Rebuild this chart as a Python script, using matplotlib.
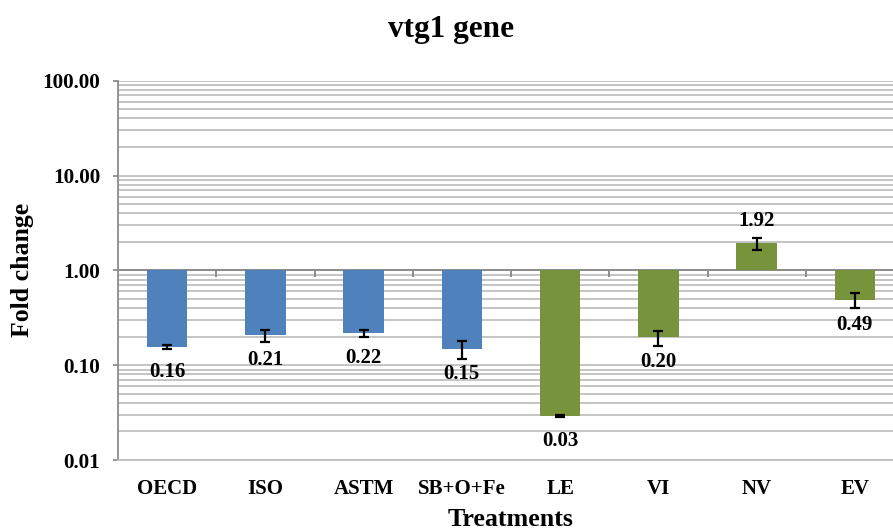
import numpy as np
import matplotlib
matplotlib.use("Agg")
import matplotlib.pyplot as plt
from matplotlib.ticker import FixedLocator, NullFormatter, LogLocator

# данные
treatments = ["OECD", "ISO", "ASTM", "SB+O+Fe", "LE", "VI", "NV", "EV"]
fold_change = [0.157, 0.207, 0.218, 0.148, 0.029, 0.196, 1.92, 0.487]
errors = [0.008, 0.03, 0.018, 0.033, 0.0005, 0.036, 0.29, 0.09]
bar_colors = ["#4F81BD"] * 4 + ["#77933C"] * 4
y_ticks = [0.01, 0.1, 1, 10, 100]
y_ticklabels = ["0.01", "0.10", "1.00", "10.00", "100.00"]

plt.rcParams["font.family"] = ["Liberation Serif", "DejaVu Serif"]
plt.rcParams["font.weight"] = "bold"

W, H = 893, 531
fig = plt.figure(figsize=(W / 100, H / 100), dpi=100)
ax = fig.add_axes([118 / W, 1 - 460 / H, 786 / W, (460 - 80.7) / H])

x = np.arange(len(treatments))
vals = np.array(fold_change)

ax.set_yscale("log")
ax.set_ylim(0.01, 100)
ax.set_xlim(-0.5, len(treatments) - 0.5)

# столбики растут от 1.00
ax.bar(x, vals - 1, bottom=1, width=0.41, color=bar_colors, zorder=3)
ax.errorbar(x, vals, yerr=errors, fmt="none", ecolor="black",
            elinewidth=1.6, capsize=3.4, capthick=1.6, zorder=4)

# подписи значений
for xi, v in zip(x, vals):
    if v >= 1:
        ax.annotate(f"{v:.2f}", (xi, v), xytext=(0, 16), textcoords="offset points",
                    ha="center", va="center", fontsize=15, fontweight="bold", zorder=5)
    else:
        ax.annotate(f"{v:.2f}", (xi, v), xytext=(0, -18), textcoords="offset points",
                    ha="center", va="center", fontsize=15, fontweight="bold", zorder=5)

# сетка
ax.yaxis.set_major_locator(FixedLocator(y_ticks))
ax.set_yticklabels(y_ticklabels)
ax.yaxis.set_minor_locator(LogLocator(base=10, subs=np.arange(2, 10)))
ax.yaxis.set_minor_formatter(NullFormatter())
ax.grid(True, axis="y", which="both", color="#BFBFBF", linewidth=1.3, zorder=0)
ax.set_axisbelow(True)

# горизонтальная ось пересекает на 1.00
ax.axhline(1, color="#8C8C8C", linewidth=1.4, zorder=2)
bounds = x[:-1] + 0.5
ax.plot(bounds, np.ones_like(bounds), ls="none", marker=3, markersize=5,
        color="#8C8C8C", markeredgewidth=1.4, zorder=2)

ax.set_xticks(x)
ax.set_xticklabels(treatments, fontsize=15, fontweight="bold")
ax.tick_params(axis="x", length=0, pad=14)
ax.tick_params(axis="y", which="major", length=3.6, width=1.3, color="#8C8C8C",
               labelsize=15.2, pad=9)
ax.tick_params(axis="y", which="minor", length=0)

for s in ["top", "right"]:
    ax.spines[s].set_visible(False)
ax.spines["left"].set_color("#8C8C8C")
ax.spines["left"].set_linewidth(1.3)
ax.spines["bottom"].set_color("#BFBFBF")
ax.spines["bottom"].set_linewidth(1.3)

fig.text(451.5 / W, 1 - 30 / H, "vtg1 gene", ha="center", va="center",
         fontsize=22.5, fontweight="bold")
fig.text(22 / W, 1 - 270 / H, "Fold change", rotation=90, ha="center", va="center",
         fontsize=18.5, fontweight="bold")
fig.text(511 / W, 1 - 526 / H, "Treatments", ha="center", va="baseline",
         fontsize=18.7, fontweight="bold")

fig.savefig("out.png", dpi=100)
